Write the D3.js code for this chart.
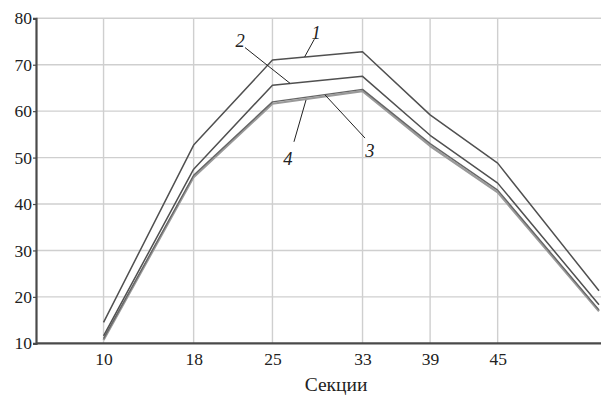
<!DOCTYPE html>
<html>
<head>
<meta charset="utf-8">
<script src="https://cdn.jsdelivr.net/npm/d3@7"></script>
<style>
  html, body { margin: 0; padding: 0; background: #fff; }
  svg { display: block; }
  svg text { font-family: "Liberation Serif", "DejaVu Serif", "Times New Roman", Times, serif; fill: #222; }
</style>
</head>
<body>
<svg id="chart" width="601" height="395"></svg>
<script>
// Section numbers along the horizontal axis
const sections = [10, 18, 25, 33, 39, 45, 54];
const xTicks = [10, 18, 25, 33, 39, 45];
const yTicks = [10, 20, 30, 40, 50, 60, 70, 80];
const xTitle = "Секции";

// Curve values per section
const curve1 = [14.5, 52.7, 71.0, 72.8, 59.2, 48.8, 21.3];
const curve2 = [11.6, 47.5, 65.6, 67.5, 54.8, 44.5, 18.3];
const curve3 = [11.0, 46.2, 62.0, 64.7, 53.0, 43.0, 17.2];
const curve4 = [10.7, 45.8, 61.6, 64.3, 52.5, 42.5, 16.9];

// Curve number labels: label position and its leader line ends (data units)
const labelNames = ["1", "2", "3", "4"];
const labelAt = [[28.87, 77.0], [22.12, 75.3], [33.66, 51.6], [26.38, 49.9]];
const leaderFrom = [[28.72, 75.5], [22.56, 73.7], [33.22, 54.2], [26.91, 53.4]];
const leaderTo = [[27.86, 71.7], [26.56, 66.0], [29.67, 63.5], [27.98, 62.4]];

const serif = "'Liberation Serif', 'DejaVu Serif', 'Times New Roman', serif";
const svg = d3.select("#chart");
const x = d3.scaleLinear().domain([4, 54]).range([36, 599]);
const y = d3.scaleLinear().domain([10, 80]).range([343.3, 18.3]);

// grid
const grid = svg.append("g").attr("stroke", "#cfcfcf").attr("stroke-width", 1.4);
grid.selectAll("line.h").data(yTicks.filter(d => d > 10)).join("line")
  .attr("x1", x(4)).attr("x2", 601).attr("y1", d => y(d)).attr("y2", d => y(d));
grid.selectAll("line.v").data(xTicks).join("line")
  .attr("y1", y(10)).attr("y2", y(80)).attr("x1", d => x(d)).attr("x2", d => x(d));

// curves
const line = d3.line().x((d, i) => x(sections[i])).y(d => y(d));
const curves = [
  { v: curve4, color: "#9a9a9a", w: 2.2 },
  { v: curve3, color: "#666", w: 1.4 },
  { v: curve2, color: "#505050", w: 1.5 },
  { v: curve1, color: "#505050", w: 1.5 }
];
svg.append("g").selectAll("path").data(curves).join("path")
  .attr("d", d => line(d.v))
  .attr("fill", "none")
  .attr("stroke", d => d.color)
  .attr("stroke-width", d => d.w)
  .attr("stroke-linejoin", "round");

// axes
const yAxis = d3.axisLeft(y).tickValues(yTicks).tickSize(3).tickPadding(1).tickFormat(d3.format("d"));
const gy = svg.append("g").attr("transform", `translate(${x(4)},0)`).call(yAxis)
  .attr("font-family", serif);
gy.select(".domain").attr("stroke", "#4a4a4a").attr("stroke-width", 2.2);
gy.selectAll(".tick line").attr("stroke", "#4a4a4a").attr("stroke-width", 1.2);
gy.selectAll(".tick text").attr("font-size", 17.5).attr("fill", "#222");

const xAxis = d3.axisBottom(x).tickValues(xTicks).tickSize(0).tickPadding(9).tickFormat(d3.format("d"));
const gx = svg.append("g").attr("transform", `translate(0,${y(10)})`).call(xAxis)
  .attr("font-family", serif);
gx.select(".domain").attr("stroke", "#4a4a4a").attr("stroke-width", 2.2)
  .attr("d", `M${x(4)},0H601`);
gx.selectAll(".tick text").attr("font-size", 17.5).attr("fill", "#222");

svg.append("text").attr("x", 336).attr("y", 391).attr("text-anchor", "middle")
  .attr("font-family", serif).attr("font-size", 19.5).text(xTitle);

// curve labels with leaders
const lab = svg.append("g");
lab.selectAll("line").data(labelNames).join("line")
  .attr("x1", (d, i) => x(leaderFrom[i][0])).attr("y1", (d, i) => y(leaderFrom[i][1]))
  .attr("x2", (d, i) => x(leaderTo[i][0])).attr("y2", (d, i) => y(leaderTo[i][1]))
  .attr("stroke", "#222").attr("stroke-width", 1);
lab.selectAll("text").data(labelNames).join("text")
  .attr("x", (d, i) => x(labelAt[i][0])).attr("y", (d, i) => y(labelAt[i][1]))
  .attr("text-anchor", "middle").attr("dy", "0.35em")
  .attr("font-family", serif)
  .attr("font-size", 18.5).attr("font-style", "italic").text(d => d);
</script>
</body>
</html>
